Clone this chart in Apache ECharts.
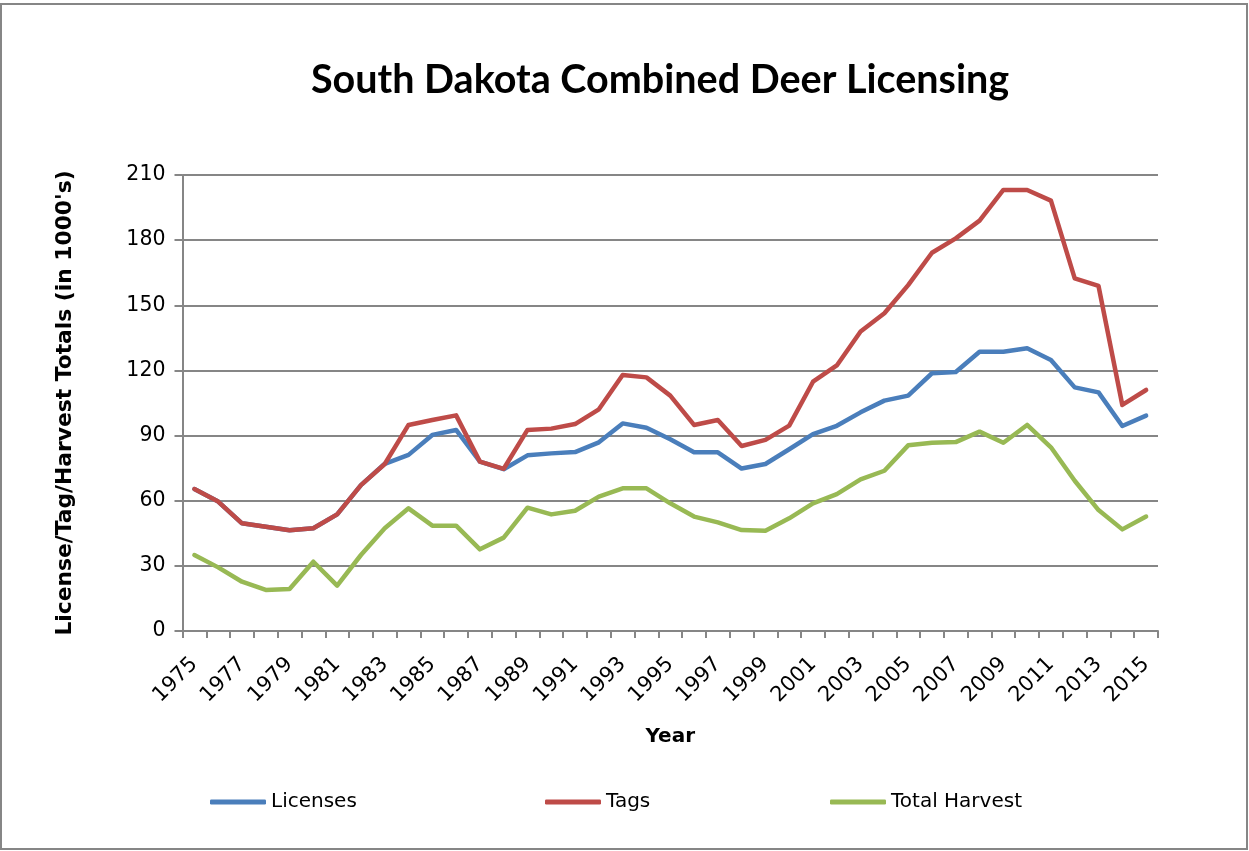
<!DOCTYPE html>
<html>
<head>
<meta charset="utf-8">
<script src="https://cdn.jsdelivr.net/npm/echarts@6/dist/echarts.min.js"></script>
<style>
html,body{margin:0;padding:0;background:#fff;}
#chart{width:1249px;height:851px;}
</style>
</head>
<body>
<div id="chart"></div>
<script>
const years = ['1975','1976','1977','1978','1979','1980','1981','1982','1983','1984','1985','1986','1987','1988','1989','1990','1991','1992','1993','1994','1995','1996','1997','1998','1999','2000','2001','2002','2003','2004','2005','2006','2007','2008','2009','2010','2011','2012','2013','2014','2015'];
const licenses = [65.4,59.6,49.6,48.0,46.4,47.3,53.7,67.2,77.0,81.1,90.3,92.6,78.0,74.5,80.9,81.8,82.4,86.9,95.6,93.6,88.3,82.3,82.3,74.8,76.9,83.7,90.7,94.5,100.7,106.1,108.4,118.7,119.3,128.6,128.6,130.2,124.8,112.2,109.9,94.4,99.2];
const tags = [65.4,59.6,49.6,48.0,46.4,47.3,53.7,67.2,76.9,94.9,97.2,99.3,78.0,74.7,92.6,93.2,95.3,102.1,117.9,116.8,108.4,94.9,97.2,85.2,88.0,94.6,114.8,122.3,137.9,146.3,159.3,174.2,180.8,189.0,203.1,203.1,198.2,162.4,158.9,104.1,111.0];
const harvest = [35.0,29.3,22.7,18.9,19.3,31.9,20.9,35.0,47.3,56.5,48.5,48.5,37.6,43.0,56.8,53.7,55.4,61.9,65.7,65.7,58.8,52.7,50.0,46.5,46.2,51.9,58.8,63.0,69.8,73.8,85.5,86.7,87.0,91.8,86.7,94.9,84.6,69.2,55.7,46.8,52.7];
const seriesNames = ['Licenses', 'Tags', 'Total Harvest'];
const yTicks = {min: 0, max: 210, interval: 30};

const chart = echarts.init(document.getElementById('chart'), null, {renderer: 'canvas'});
const titleFont = 'Lato, "Open Sans", sans-serif';
const font = '"DejaVu Sans", sans-serif';
const gridColor = '#868686';
const colors = ['#4A7EBB', '#BE4B48', '#98B954'];
function line(name, data, color) {
  return {name, type: 'line', data, showSymbol: false, symbol: 'none',
    lineStyle: {color, width: 4.5, join: 'round', cap: 'round'}, itemStyle: {color}, z: 3};
}
const legendLefts = [210, 545, 830];
chart.setOption({
  animation: false,
  backgroundColor: '#fff',
  textStyle: {fontFamily: font},
  title: {
    text: 'South Dakota Combined Deer Licensing',
    left: 655, top: 55, textAlign: 'center',
    textStyle: {fontFamily: titleFont, fontSize: 39.5, fontWeight: 'bold', color: '#000'}
  },
  graphic: [{
    type: 'rect', shape: {x: 1, y: 4, width: 1246, height: 845},
    style: {fill: 'none', stroke: '#868686', lineWidth: 2}, silent: true
  }],
  legend: seriesNames.map((n, i) => ({
    left: legendLefts[i], top: 792, padding: 0, itemWidth: 56, itemHeight: 5, icon: 'roundRect',
    textStyle: {fontFamily: font, fontSize: 20, color: '#000'},
    data: [n]
  })),
  grid: {left: 182.5, right: 91, top: 175, bottom: 220, containLabel: false},
  xAxis: {
    type: 'category', data: years, boundaryGap: true,
    name: 'Year', nameLocation: 'middle', nameGap: 96,
    nameTextStyle: {fontFamily: font, fontSize: 20, fontWeight: 'bold', color: '#000'},
    axisLine: {lineStyle: {color: gridColor, width: 2}},
    axisTick: {show: true, alignWithLabel: false, interval: 0, length: 7, lineStyle: {color: gridColor, width: 2}},
    axisLabel: {interval: 1, rotate: 45, margin: 30, fontFamily: font, fontSize: 21, color: '#000'},
    splitLine: {show: false}
  },
  yAxis: {
    type: 'value', min: yTicks.min, max: yTicks.max, interval: yTicks.interval,
    name: "License/Tag/Harvest Totals (in 1000's)", nameLocation: 'middle', nameGap: 106,
    nameTextStyle: {fontFamily: font, fontSize: 21.8, fontWeight: 'bold', color: '#000'},
    axisLine: {show: true, lineStyle: {color: gridColor, width: 2}},
    axisTick: {show: true, length: 8, lineStyle: {color: gridColor, width: 2}},
    axisLabel: {margin: 17, fontFamily: font, fontSize: 20.5, color: '#000'},
    splitLine: {show: true, lineStyle: {color: gridColor, width: 2}}
  },
  series: seriesNames.map((n, i) => line(n, [licenses, tags, harvest][i], colors[i]))
});
</script>
</body>
</html>
